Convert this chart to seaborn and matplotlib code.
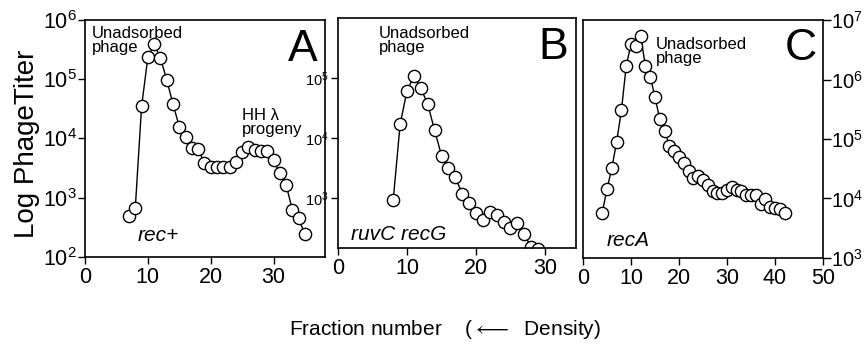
import numpy as np
import matplotlib
matplotlib.use("Agg")
import matplotlib.pyplot as plt
from matplotlib.ticker import NullLocator
import seaborn as sns

# fractions and log10 phage titers
frac_a = list(range(7, 36))
log_a = [2.69, 2.83, 4.54, 5.37, 5.59, 5.36, 4.99, 4.58, 4.20, 4.03, 3.84, 3.83,
         3.58, 3.52, 3.51, 3.51, 3.52, 3.61, 3.77, 3.86, 3.80, 3.79, 3.79, 3.63,
         3.41, 3.22, 2.79, 2.65, 2.38]

frac_b = list(range(8, 31))
log_b = [2.97, 4.23, 4.79, 5.03, 4.83, 4.57, 4.13, 3.71, 3.50, 3.35, 3.07, 2.92,
         2.75, 2.64, 2.77, 2.72, 2.61, 2.50, 2.58, 2.40, 2.18, 2.15, 2.06]

frac_c = list(range(4, 43))
log_c = [3.76, 4.16, 4.51, 4.95, 5.48, 6.23, 6.59, 6.57, 6.73, 6.23, 6.05, 5.70,
         5.33, 5.14, 4.89, 4.80, 4.69, 4.59, 4.46, 4.35, 4.37, 4.31, 4.23, 4.12,
         4.10, 4.09, 4.15, 4.19, 4.14, 4.12, 4.06, 4.06, 4.06, 3.90, 3.99, 3.85,
         3.84, 3.82, 3.76]

yticks_a = [2, 3, 4, 5, 6]
yticks_b = [3, 4, 5]
yticks_c = [3, 4, 5, 6, 7]
xticks_ab = [0, 10, 20, 30]
xticks_c = [0, 10, 20, 30, 40, 50]

sns.set_style("ticks")
plt.rcParams["font.family"] = ["Liberation Sans", "DejaVu Sans"]
plt.rcParams["mathtext.fontset"] = "custom"
plt.rcParams["mathtext.rm"] = "Liberation Sans"
plt.rcParams["text.color"] = "black"
plt.rcParams["axes.labelcolor"] = "black"

fig = plt.figure(figsize=(8.65, 3.51), dpi=100)
ax_a = fig.add_axes([0.0983, 0.268, 0.2775, 0.675])
ax_b = fig.add_axes([0.3908, 0.2934, 0.2751, 0.6553])
ax_c = fig.add_axes([0.674, 0.265, 0.2775, 0.678])


def pow_labels(exps):
    return [r"$\mathregular{10^{%d}}$" % e for e in exps]


def draw_panel(ax, frac, logs):
    sns.lineplot(x=frac, y=10 ** np.array(logs), ax=ax, color="black", lw=1,
                 marker="o", markersize=8.8, markerfacecolor="white",
                 markeredgecolor="black", markeredgewidth=1)
    ax.set_yscale("log")
    ax.yaxis.set_minor_locator(NullLocator())
    for s in ax.spines.values():
        s.set_visible(True)
        s.set_linewidth(1.2)
        s.set_color("black")
    ax.tick_params(direction="out", length=5, width=1, colors="black", pad=2)
    ax.set_xlabel("")
    ax.set_ylabel("")


# panel A
draw_panel(ax_a, frac_a, log_a)
ax_a.set_xlim(0, 38.2)
ax_a.set_ylim(1e2, 1e6)
ax_a.set_xticks(xticks_ab)
ax_a.set_xticklabels([str(t) for t in xticks_ab], fontsize=15.5)
ax_a.set_yticks([10.0 ** e for e in yticks_a], pow_labels(yticks_a), fontsize=15.5)
ax_a.tick_params(axis="y", pad=1)
ax_a.text(0.03, 0.975, "Unadsorbed\nphage", transform=ax_a.transAxes,
          fontsize=12, ha="left", va="top", linespacing=0.95)
ax_a.text(0.655, 0.63, "HH λ\nprogeny", transform=ax_a.transAxes,
          fontsize=12, ha="left", va="top", linespacing=0.95)
ax_a.text(0.22, 0.09, "rec+", transform=ax_a.transAxes, fontsize=15,
          style="italic", ha="left", va="center")
ax_a.text(0.97, 0.96, "A", transform=ax_a.transAxes, fontsize=32,
          ha="right", va="top")

# panel B
draw_panel(ax_b, frac_b, log_b)
ax_b.set_xlim(0, 34.5)
ax_b.set_ylim(10 ** 2.17, 1e6)
ax_b.set_xticks(xticks_ab)
ax_b.set_xticklabels([str(t) for t in xticks_ab], fontsize=15.5)
ax_b.set_yticks([10.0 ** e for e in yticks_b], pow_labels(yticks_b), fontsize=10.5)
ax_b.text(0.17, 0.965, "Unadsorbed\nphage", transform=ax_b.transAxes,
          fontsize=12, ha="left", va="top", linespacing=0.95)
ax_b.text(0.055, 0.06, "ruvC recG", transform=ax_b.transAxes, fontsize=15,
          style="italic", ha="left", va="center")
ax_b.text(0.965, 0.96, "B", transform=ax_b.transAxes, fontsize=32,
          ha="right", va="top")

# panel C
draw_panel(ax_c, frac_c, log_c)
ax_c.set_xlim(0, 50)
ax_c.set_ylim(1e3, 1e7)
ax_c.set_xticks(xticks_c)
ax_c.set_xticklabels([str(t) for t in xticks_c], fontsize=15.5)
ax_c.yaxis.tick_right()
ax_c.set_yticks([10.0 ** e for e in yticks_c], pow_labels(yticks_c), fontsize=14.5)
ax_c.tick_params(axis="y", length=6, pad=0)
ax_c.text(0.305, 0.93, "Unadsorbed\nphage", transform=ax_c.transAxes,
          fontsize=12, ha="left", va="top", linespacing=0.95)
ax_c.text(0.1, 0.075, "recA", transform=ax_c.transAxes, fontsize=15,
          style="italic", ha="left", va="center")
ax_c.text(0.975, 0.965, "C", transform=ax_c.transAxes, fontsize=32,
          ha="right", va="top")

fig.text(0.031, 0.59, "Log PhageTiter", rotation=90, fontsize=20,
         ha="center", va="center")
fig.text(0.514, 0.06, r"Fraction number    ($\longleftarrow$  Density)",
         fontsize=15, ha="center", va="center")

fig.savefig("out.png", dpi=100)
